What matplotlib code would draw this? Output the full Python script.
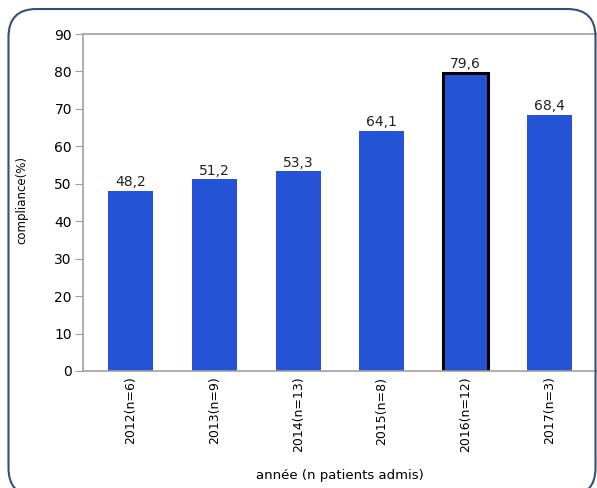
import matplotlib.pyplot as plt
from matplotlib.patches import FancyBboxPatch
from matplotlib.transforms import IdentityTransform

years = ['2012(n=6)', '2013(n=9)', '2014(n=13)', '2015(n=8)', '2016(n=12)', '2017(n=3)']
compliance = [48.2, 51.2, 53.3, 64.1, 79.6, 68.4]
highlight = '2016(n=12)'

bar_color = '#2553d5'
grid_gray = '#a0a0a0'

fig = plt.figure(figsize=(5.97, 4.88), dpi=100)
ax = fig.add_axes([83 / 597, 1 - 371 / 488, 1 - 83 / 597, (371 - 34) / 488])

x = range(len(years))
bars = ax.bar(x, compliance, width=0.54, color=bar_color, zorder=2)
for b, lab in zip(bars, years):
    if lab == highlight:
        b.set_edgecolor('black')
        b.set_linewidth(2.2)

for b, v in zip(bars, compliance):
    ax.text(b.get_x() + b.get_width() / 2, v + 0.4, f'{v:.1f}'.replace('.', ','),
            ha='center', va='bottom', fontsize=10, color='#222222')

ax.set_ylim(0, 90)
ax.set_xlim(-0.57, 5.57)
ax.set_yticks(range(0, 91, 10))
ax.set_xticks(list(x))
ax.set_xticklabels(years, rotation=90, fontsize=9)
ax.tick_params(axis='y', length=6, color=grid_gray, labelsize=10, pad=2)
ax.tick_params(axis='x', length=0, pad=4)

for side in ('left', 'top', 'bottom'):
    ax.spines[side].set_color(grid_gray)
    ax.spines[side].set_linewidth(1.2)
ax.spines['right'].set_visible(False)

ax.set_xlabel('année (n patients admis)', fontsize=9.5, labelpad=12)
fig.text(22 / 597, 1 - 200 / 488, 'compliance(%)', rotation=90, ha='center', va='center',
         fontsize=8.5, family=['Liberation Sans Narrow', 'DejaVu Sans'])

# rounded frame around the whole chart, in pixel coordinates
frame = FancyBboxPatch((8.5, -8), 587, 487, boxstyle='round,pad=0,rounding_size=28',
                       transform=IdentityTransform(), fill=False,
                       edgecolor='#34507a', linewidth=1.5, clip_on=False)
fig.add_artist(frame)

fig.savefig('out.png', dpi=100)
